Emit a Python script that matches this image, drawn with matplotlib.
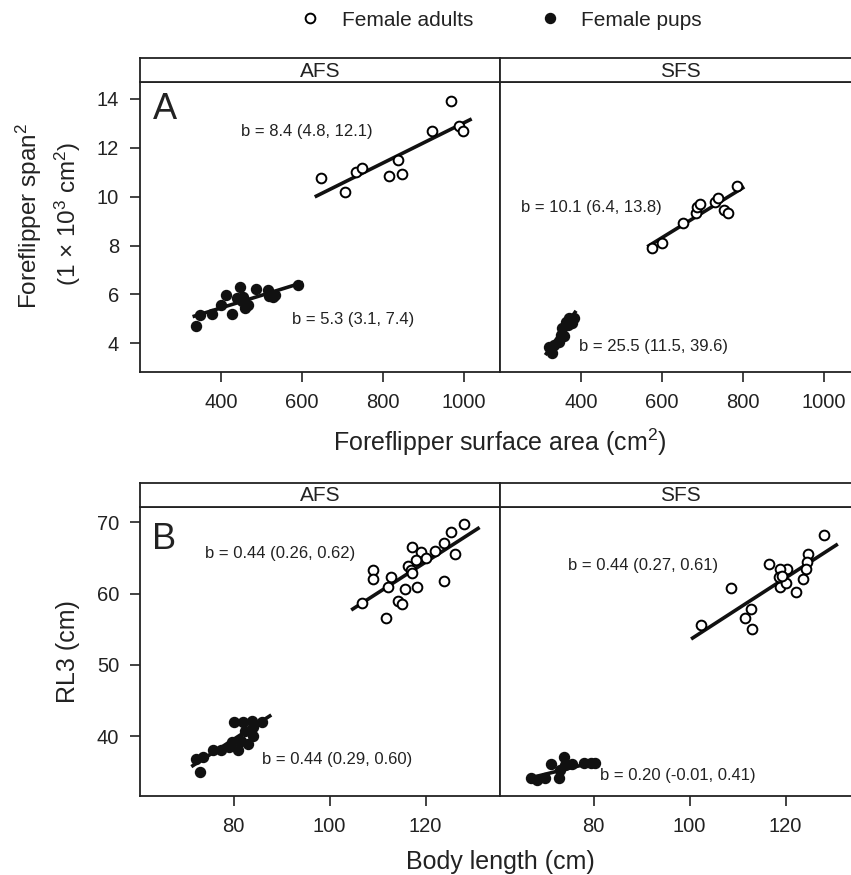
import matplotlib
matplotlib.use('Agg')
import matplotlib.pyplot as plt
from matplotlib.lines import Line2D

plt.rcParams['font.family'] = ['Liberation Sans', 'DejaVu Sans']
plt.rcParams['mathtext.fontset'] = 'custom'
plt.rcParams['mathtext.rm'] = 'Liberation Sans'
plt.rcParams['mathtext.it'] = 'Liberation Sans:italic'
plt.rcParams['mathtext.bf'] = 'Liberation Sans:bold'

TXT = '#222222'

# ---- panel A: foreflipper span^2 vs surface area ----
afs_area_adult = [647, 708, 735, 750, 816, 838, 847, 921, 968, 988, 998]
afs_span_adult = [10.76, 10.19, 11.0, 11.17, 10.84, 11.48, 10.94, 12.68, 13.92, 12.87, 12.69]
afs_area_pup = [338, 348, 379, 400, 412, 427, 447, 439, 455, 459, 468, 487, 517, 528, 533, 591, 452, 520]
afs_span_pup = [4.71, 5.16, 5.22, 5.56, 5.97, 5.22, 6.30, 5.84, 5.90, 5.43, 5.56, 6.24, 6.18, 5.90, 5.97, 6.38, 5.75, 5.95]
afs_fit_adult_x = [632, 1020]
afs_fit_adult_y = [9.99, 13.18]
afs_fit_pup_x = [330, 603]
afs_fit_pup_y = [5.09, 6.49]

sfs_area_adult = [577, 600, 652, 685, 688, 694, 731, 738, 754, 763, 786]
sfs_span_adult = [7.90, 8.12, 8.94, 9.35, 9.58, 9.71, 9.78, 9.96, 9.44, 9.33, 10.42]
sfs_area_pup = [321, 329, 333, 345, 350, 354, 362, 370, 378, 383, 368, 358]
sfs_span_pup = [3.87, 3.59, 3.93, 4.07, 4.34, 4.61, 4.89, 5.02, 4.82, 5.02, 4.75, 4.29]
sfs_fit_adult_x = [564, 804]
sfs_fit_adult_y = [7.95, 10.40]
sfs_fit_pup_x = [312, 388]
sfs_fit_pup_y = [3.52, 5.33]

# ---- panel B: RL3 vs body length ----
afs_len_adult = [128.0, 125.35, 123.75, 126.04, 122.02, 118.96, 120.15, 117.16, 117.92, 116.33, 117.02,
                 117.16, 112.71, 112.15, 109.04, 109.04, 115.63, 118.13, 123.75, 114.25, 115.15, 111.67, 106.75]
afs_rl3_adult = [69.76, 68.69, 67.05, 65.51, 66.02, 65.88, 64.95, 66.49, 64.71, 63.87, 63.31,
                 62.85, 62.29, 60.88, 63.31, 62.01, 60.60, 60.97, 61.81, 59.01, 58.55, 56.54, 58.73]
afs_len_pup = [72.92, 72.23, 73.62, 75.70, 77.44, 78.96, 79.66, 80.91, 80.08, 81.95, 83.83, 85.91,
               82.29, 84.03, 82.99, 81.6, 84.03]
afs_rl3_pup = [35.02, 36.76, 37.08, 38.02, 38.02, 38.53, 39.11, 38.02, 42.04, 42.04, 42.18, 42.04,
               40.78, 40.08, 38.92, 39.30, 41.35]
afs_fit_len_adult = [104.5, 131.25]
afs_fit_rl3_adult = [57.7, 69.29]
afs_fit_len_pup = [71.19, 87.85]
afs_fit_rl3_pup = [35.72, 42.97]

sfs_len_adult = [128.1, 124.63, 124.48, 124.35, 123.58, 122.26, 120.31, 118.79, 116.56, 118.58, 118.93,
                 120.18, 119.27, 108.72, 112.81, 111.64, 113.03, 102.47]
sfs_rl3_adult = [68.22, 65.55, 64.48, 63.40, 62.0, 60.27, 63.50, 63.40, 64.15, 62.37, 60.97,
                 61.44, 62.47, 60.74, 57.79, 56.53, 54.99, 55.60]
sfs_len_pup = [66.99, 68.24, 69.97, 71.15, 72.75, 72.96, 73.79, 74.14, 75.53, 77.96, 79.49, 80.39]
sfs_rl3_pup = [34.09, 33.86, 34.09, 36.10, 34.09, 35.26, 37.13, 35.96, 36.10, 36.2, 36.2, 36.2]
sfs_fit_len_adult = [100.31, 130.88]
sfs_fit_rl3_adult = [53.63, 66.96]
sfs_fit_len_pup = [66.5, 80.04]
sfs_fit_rl3_pup = [34.09, 36.34]

W, H = 851, 875
fig = plt.figure(figsize=(W / 100, H / 100), dpi=100)


def box(left, top, w, h):
    return [left / W, 1 - (top + h) / H, w / W, h / H]


def strip(left, top, label):
    s = fig.add_axes(box(left, top, 360, 24))
    s.set_xticks([])
    s.set_yticks([])
    for sp in s.spines.values():
        sp.set_linewidth(1.3)
        sp.set_color('#222222')
    s.text(0.5, 0.45, label, ha='center', va='center', fontsize=15, color=TXT, transform=s.transAxes)


def panel(left, top, height, xlim, ylim, xticks, yticks, show_y):
    ax = fig.add_axes(box(left, top, 360, height))
    ax.set_xlim(xlim)
    ax.set_ylim(ylim)
    ax.set_xticks(xticks)
    ax.set_yticks(yticks)
    for sp in ax.spines.values():
        sp.set_linewidth(1.3)
        sp.set_color('#222222')
    ax.tick_params(direction='out', length=7, width=1.2, labelsize=14.5, labelcolor=TXT,
                   color='#222222', pad=8, top=False, right=False)
    if not show_y:
        ax.tick_params(left=False, labelleft=False)
    return ax


def draw(ax, xa, ya, xp, yp, fxa, fya, fxp, fyp):
    ax.plot(xa, ya, 'o', ms=7, mfc='white', mec='black', mew=1.4, zorder=3)
    ax.plot(xp, yp, 'o', ms=7.2, mfc='#111111', mec='#111111', zorder=3)
    ax.plot(fxa, fya, '-', color='#111111', lw=2.6, solid_capstyle='butt', zorder=2)
    ax.plot(fxp, fyp, '-', color='#111111', lw=2.6, solid_capstyle='butt', zorder=2)


def note(ax, x, y, s):
    ax.text(x, y, s, ha='left', va='center', fontsize=12, color=TXT, zorder=5)


# panel A
ylimA = (2.84, 14.69)
xlimA = (200, 1090)
axA1 = panel(140, 82, 289.7, xlimA, ylimA, [400, 600, 800, 1000], [4, 6, 8, 10, 12, 14], True)
axA2 = panel(500, 82, 289.7, xlimA, ylimA, [400, 600, 800, 1000], [4, 6, 8, 10, 12, 14], False)
strip(140, 58, 'AFS')
strip(500, 58, 'SFS')
draw(axA1, afs_area_adult, afs_span_adult, afs_area_pup, afs_span_pup,
     afs_fit_adult_x, afs_fit_adult_y, afs_fit_pup_x, afs_fit_pup_y)
draw(axA2, sfs_area_adult, sfs_span_adult, sfs_area_pup, sfs_span_pup,
     sfs_fit_adult_x, sfs_fit_adult_y, sfs_fit_pup_x, sfs_fit_pup_y)
note(axA1, 450, 12.66, 'b = 8.4 (4.8, 12.1)')
note(axA1, 576, 4.99, 'b = 5.3 (3.1, 7.4)')
note(axA2, 251, 9.55, 'b = 10.1 (6.4, 13.8)')
note(axA2, 396, 3.87, 'b = 25.5 (11.5, 39.6)')
axA1.text(0.037, 0.967, 'A', transform=axA1.transAxes, fontsize=26, ha='left', va='top', color=TXT)

# panel B
ylimB = (31.6, 72.2)
xlimB = (60.5, 135.5)
axB1 = panel(140, 506.7, 289.3, xlimB, ylimB, [80, 100, 120], [40, 50, 60, 70], True)
axB2 = panel(500, 506.7, 289.3, xlimB, ylimB, [80, 100, 120], [40, 50, 60, 70], False)
strip(140, 482.7, 'AFS')
strip(500, 482.7, 'SFS')
draw(axB1, afs_len_adult, afs_rl3_adult, afs_len_pup, afs_rl3_pup,
     afs_fit_len_adult, afs_fit_rl3_adult, afs_fit_len_pup, afs_fit_rl3_pup)
draw(axB2, sfs_len_adult, sfs_rl3_adult, sfs_len_pup, sfs_rl3_pup,
     sfs_fit_len_adult, sfs_fit_rl3_adult, sfs_fit_len_pup, sfs_fit_rl3_pup)
note(axB1, 73.96, 65.65, 'b = 0.44 (0.26, 0.62)')
note(axB1, 85.9, 36.66, 'b = 0.44 (0.29, 0.60)')
note(axB2, 74.63, 64.01, 'b = 0.44 (0.27, 0.61)')
note(axB2, 81.29, 34.42, 'b = 0.20 (-0.01, 0.41)')
axB1.text(0.0325, 0.948, 'B', transform=axB1.transAxes, fontsize=26, ha='left', va='top', color=TXT)

# axis labels
fig.text(500 / W, 1 - 442 / H, 'Foreflipper surface area (cm$^2$)', ha='center', va='center',
         fontsize=18, color=TXT)
fig.text(500 / W, 1 - 862 / H, 'Body length (cm)', ha='center', va='center', fontsize=18, color=TXT)
fig.text(29 / W, 1 - 216 / H, 'Foreflipper span$^2$', rotation=90, ha='center', va='center',
         fontsize=17.5, color=TXT)
fig.text(68 / W, 1 - 214 / H, '(1 \u00d7 10$^3$ cm$^2$)', rotation=90, ha='center', va='center',
         fontsize=17.5, color=TXT)
fig.text(67.5 / W, 1 - 652 / H, 'RL3 (cm)', rotation=90, ha='center', va='center', fontsize=18, color=TXT)

# legend
handles = [Line2D([], [], ls='none', marker='o', ms=7, mfc='white', mec='black', mew=1.4),
           Line2D([], [], ls='none', marker='o', ms=7.2, mfc='#111111', mec='#111111')]
fig.legend(handles, ['Female adults', 'Female pups'], loc='center', bbox_to_anchor=(501 / W, 1 - 20 / H),
           ncol=2, frameon=False, fontsize=15, handlelength=1.0, handletextpad=1.0, columnspacing=3.2,
           labelcolor=TXT)

fig.savefig('out.png', dpi=100)
